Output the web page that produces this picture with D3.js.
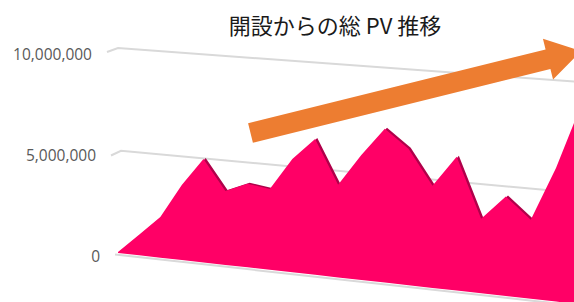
<!DOCTYPE html>
<html>
<head>
<meta charset="utf-8">
<script src="https://cdn.jsdelivr.net/npm/d3@7"></script>
<style>
  html, body { margin: 0; padding: 0; background: #ffffff; }
  svg { display: block; }
</style>
</head>
<body>
<svg id="chart" width="574" height="302"></svg>
<script>
// ---- data ----
const title = "開設からの総 PV 推移";
const periods = ["1","2","3","4","5","6","7","8","9","10","11","12","13","14","15","16","17","18","19","20","21"];
const pvValues = [50000, 1000000, 1970000, 3620000, 4970000, 3540000, 3990000, 3840000, 5360000, 6400000,
                  4340000, 5840000, 7160000, 6320000, 4710000, 6150000, 3410000, 4530000, 3590000, 6030000, 9000000];
const tickValues = [0, 5000000, 10000000];
const tickLabels = ["0", "5,000,000", "10,000,000"];

// ---- layout ----
const W = 574, H = 302;
const svg = d3.select("#chart");

// index -> normalized depth position (mild perspective, right side closer)
const idx = d3.scaleLinear().domain([0, 19]).range([0, 1]);
const c = 1.1;
const persp = t => t / (c + (1 - c) * t);
const sx = d3.scaleLinear().domain([0, 1]).range([118, 556]);
const X = i => sx(persp(idx(i)));

// value -> fraction of the wall height
const fv = d3.scaleLinear().domain([0, 10000000]).range([0, 1]);
// floor and 10M edges of the slanted wall as functions of screen x
const bottomAt = d3.scaleLinear().domain([118, 574]).range([253, 303.6]);
const topAt = d3.scaleLinear().domain([118, 574]).range([48, 81.5]);
const Y = (x, v) => bottomAt(x) + (topAt(x) - bottomAt(x)) * fv(v);

// ---- gridlines ----
const grid = svg.append("g");
tickValues.forEach((v, k) => {
  const f = fv(v);
  if (v === 0) {
    const xs = 115, xe = 600;
    grid.append("line")
      .attr("x1", xs).attr("y1", Y(xs, 0) + 1.8)
      .attr("x2", xe).attr("y2", Y(xe, 0) + 1.8)
      .attr("stroke", "#d9d9d9").attr("stroke-width", 2);
  } else {
    const bx = 124 - 6 * f;          // back-wall start
    const fx = 115 - 8 * f;          // side-wall front start
    const by = Y(bx, v);
    const fy = by + 4 + 1.5 * (1 - f);
    grid.append("path")
      .attr("d", `M${fx},${fy}L${bx},${by}L600,${Y(600, v)}`)
      .attr("fill", "none")
      .attr("stroke", "#d9d9d9").attr("stroke-width", 2);
  }
});

// ---- tick labels ----
tickValues.forEach((v, k) => {
  const f = fv(v);
  const fx = 115 - 8 * f;
  svg.append("text")
    .attr("x", fx - 15)
    .attr("y", Y(118, v) + 3 + 3 * f)
    .attr("text-anchor", "end")
    .attr("dominant-baseline", "central")
    .attr("font-family", "'Open Sans', 'Noto Sans', sans-serif")
    .attr("font-size", 15.5)
    .attr("fill", "#595959")
    .text(tickLabels[k]);
});

// ---- area (3D ribbon) ----
const pts = pvValues.map((v, i) => {
  const x = X(i);
  return { x: x, y0: Y(x, 0), y1: Y(x, v) };
});
const area = d3.area().x(d => d.x).y0(d => d.y0).y1(d => d.y1).curve(d3.curveLinear);

const depth = { dx: 2.2, dy: -1.0 };
svg.append("path")
  .datum(pts)
  .attr("d", area)
  .attr("transform", `translate(${depth.dx},${depth.dy})`)
  .attr("fill", "#b0004a");
svg.append("path")
  .datum(pts)
  .attr("d", area)
  .attr("fill", "#ff0066");

// ---- orange trend arrow ----
const tail = [250.5, 133], tip = [581, 51];
const ang = Math.atan2(tip[1] - tail[1], tip[0] - tail[0]);
const len = Math.hypot(tip[0] - tail[0], tip[1] - tail[1]);
const shaftHalf = 10, headHalf = 21, headLen = 34;
const ux = Math.cos(ang), uy = Math.sin(ang), px = -uy, py = ux;
const P = (a, b) => [tail[0] + ux * a + px * b, tail[1] + uy * a + py * b];
const arrowPts = [
  P(0, -shaftHalf), P(len - headLen, -shaftHalf), P(len - headLen, -headHalf),
  P(len, 0),
  P(len - headLen, headHalf), P(len - headLen, shaftHalf), P(0, shaftHalf)
];
svg.append("path")
  .attr("d", d3.line()(arrowPts) + "Z")
  .attr("fill", "#ed7d31");

// ---- title ----
svg.append("text")
  .attr("x", 335)
  .attr("y", 24)
  .attr("text-anchor", "middle")
  .attr("dominant-baseline", "central")
  .attr("font-family", "'Noto Sans CJK JP', 'Noto Sans', sans-serif")
  .attr("font-size", 22)
  .attr("fill", "#1a1a1a")
  .text(title);
</script>
</body>
</html>
